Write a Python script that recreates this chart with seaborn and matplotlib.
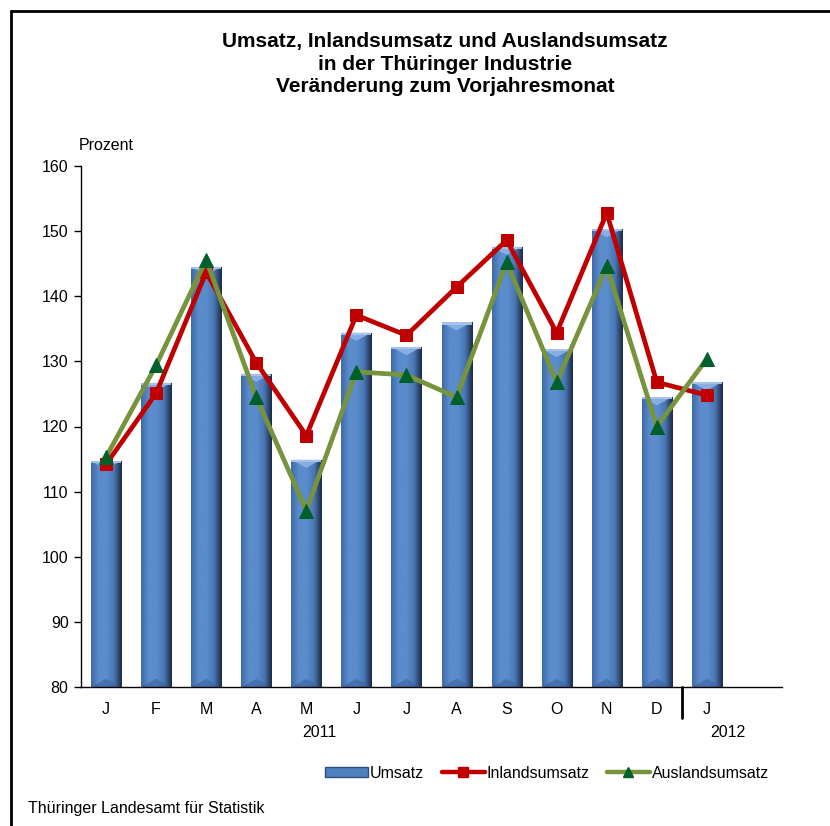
#!/usr/bin/env python
# -*- coding: UTF-8 -*-

# Import Modules
import numpy as np
import pandas as pd
import seaborn as sns
import matplotlib.pyplot as plt
from matplotlib.patches import Polygon, Rectangle
from matplotlib.lines import Line2D
from matplotlib.colors import LinearSegmentedColormap


# Chart data
months = ["J", "F", "M", "A", "M", "J", "J", "A", "S", "O", "N", "D", "J"]
years = ["2011", "2012"]
umsatz = [114.7, 126.7, 144.5, 128.1, 114.9, 134.4, 132.2, 136.0, 147.6, 131.9, 150.3, 124.5, 126.8]
inland = [114.2, 125.1, 143.7, 129.8, 118.6, 137.1, 134.0, 141.4, 148.6, 134.4, 152.8, 126.8, 124.8]
ausland = [115.3, 129.4, 145.6, 124.5, 107.1, 128.4, 127.9, 124.5, 145.2, 126.8, 144.6, 120.0, 130.4]

title_lines = ["Umsatz, Inlandsumsatz und Auslandsumsatz",
               "in der Thüringer Industrie",
               "Veränderung zum Vorjahresmonat"]
source = "Thüringer Landesamt für Statistik"


df = pd.DataFrame({
    "pos": np.arange(len(months)),
    "Umsatz": umsatz,
    "Inlandsumsatz": inland,
    "Auslandsumsatz": ausland,
})

FS = 11.5

sns.set_style("white")
plt.rcParams["font.family"] = ["Liberation Sans", "DejaVu Sans"]
plt.rcParams["text.color"] = "black"
plt.rcParams["xtick.color"] = "black"
plt.rcParams["ytick.color"] = "black"
plt.rcParams["axes.labelcolor"] = "black"

fig = plt.figure(figsize=(8.30, 8.26), dpi=100)
ax = fig.add_axes([81 / 830, 1 - 687 / 826, 701 / 830, 521 / 826])

# Bars
sns.barplot(data=df, x="pos", y="Umsatz", color="#4F81BD", width=0.6,
            saturation=1, native_scale=True, ax=ax, zorder=2)

# Cylinder-like shading for every bar
bar_cmap = LinearSegmentedColormap.from_list(
    "bar", ["#3F6AA8", "#5B8CCC", "#5B8CCC", "#4A77B4", "#1B2A45"])
grad = np.linspace(0, 1, 64).reshape(1, -1)
for p in list(ax.patches):
    x0, y0 = p.get_x(), 80
    w, h = p.get_width(), p.get_height()
    top = p.get_y() + h
    im = ax.imshow(grad, cmap=bar_cmap, aspect="auto", zorder=2.1,
                   extent=[x0, x0 + w, y0, top], interpolation="bicubic")
    im.set_clip_path(p)
    bev = 1.25
    ax.add_patch(Polygon([[x0, top], [x0 + w, top], [x0 + w * 0.5, top - bev]],
                         closed=True, facecolor="#8FB5EA", edgecolor="none",
                         alpha=0.85, zorder=2.2))
    ax.add_patch(Polygon([[x0, top], [x0 + w, top], [x0 + w, top - 0.35], [x0, top - 0.35]],
                         closed=True, facecolor="#A9C6EE", edgecolor="none",
                         alpha=0.9, zorder=2.2))
    ax.add_patch(Polygon([[x0, 80], [x0 + w, 80], [x0 + w * 0.5, 80 + bev]],
                         closed=True, facecolor="#3A62A0", edgecolor="none",
                         alpha=0.6, zorder=2.2))

# Lines
sns.lineplot(data=df, x="pos", y="Inlandsumsatz", color="#C00000", lw=3.4,
             marker="s", markersize=8.5, markeredgecolor="#C00000", ax=ax, zorder=4)
sns.lineplot(data=df, x="pos", y="Auslandsumsatz", color="#77933C", lw=3.4,
             marker="^", markersize=9.5, markerfacecolor="#00602B",
             markeredgecolor="#00602B", ax=ax, zorder=5)

# Axes styling
ax.set_xlim(-0.5, 13.5)
ax.set_ylim(80, 160)
ax.set_yticks(range(80, 161, 10))
ax.set_xticks(df["pos"])
ax.set_xticklabels(months)
ax.set_xlabel("")
ax.set_ylabel("")
for s in ["top", "right"]:
    ax.spines[s].set_visible(False)
for s in ["left", "bottom"]:
    ax.spines[s].set_color("black")
    ax.spines[s].set_linewidth(1.0)
ax.tick_params(axis="y", direction="out", length=5, width=1, color="black",
               labelsize=FS, pad=4, left=True)
ax.tick_params(axis="x", length=0, labelsize=FS, pad=11)
ax.set_facecolor("white")

# Separator between years and year labels
ax.plot([11.5, 11.5], [0, -0.06], transform=ax.get_xaxis_transform(),
        color="black", lw=2, clip_on=False)
ax.text(4.27, -0.088, years[0], transform=ax.get_xaxis_transform(),
        ha="center", va="center", fontsize=FS)
ax.text(12.42, -0.088, years[1], transform=ax.get_xaxis_transform(),
        ha="center", va="center", fontsize=FS)

fig.text(79 / 830, 1 - 146 / 826, "Prozent", ha="left", va="center", fontsize=FS)

# Title
for line, ypx in zip(title_lines, [42, 65, 87]):
    fig.text(445 / 830, 1 - ypx / 826, line, ha="center", va="center",
             fontsize=15, fontweight="bold")

# Legend
handles = [
    Rectangle((0, 0), 1, 1, facecolor="#4F81BD", edgecolor="#2C4D7F"),
    Line2D([], [], color="#C00000", lw=3.2, marker="s", markersize=7),
    Line2D([], [], color="#77933C", lw=3.2, marker="^", markersize=7,
           markerfacecolor="#00602B", markeredgecolor="#00602B"),
]
fig.legend(handles, ["Umsatz", "Inlandsumsatz", "Auslandsumsatz"],
           loc="center", bbox_to_anchor=(547 / 830, 1 - 773 / 826), ncol=3,
           frameon=False, fontsize=FS, handlelength=2.7, handleheight=0.6,
           handletextpad=0.1, columnspacing=1.1)

fig.text(28 / 830, 1 - 808 / 826, source, ha="left", va="center", fontsize=FS)

# Outer frame (left and top edges)
fig.add_artist(Line2D([11 / 830, 11 / 830], [0, 1 - 11 / 826], color="black", lw=2,
                      transform=fig.transFigure))
fig.add_artist(Line2D([11 / 830, 1], [1 - 11 / 826, 1 - 11 / 826], color="black", lw=2,
                      transform=fig.transFigure))

fig.savefig("out.png", dpi=100)
